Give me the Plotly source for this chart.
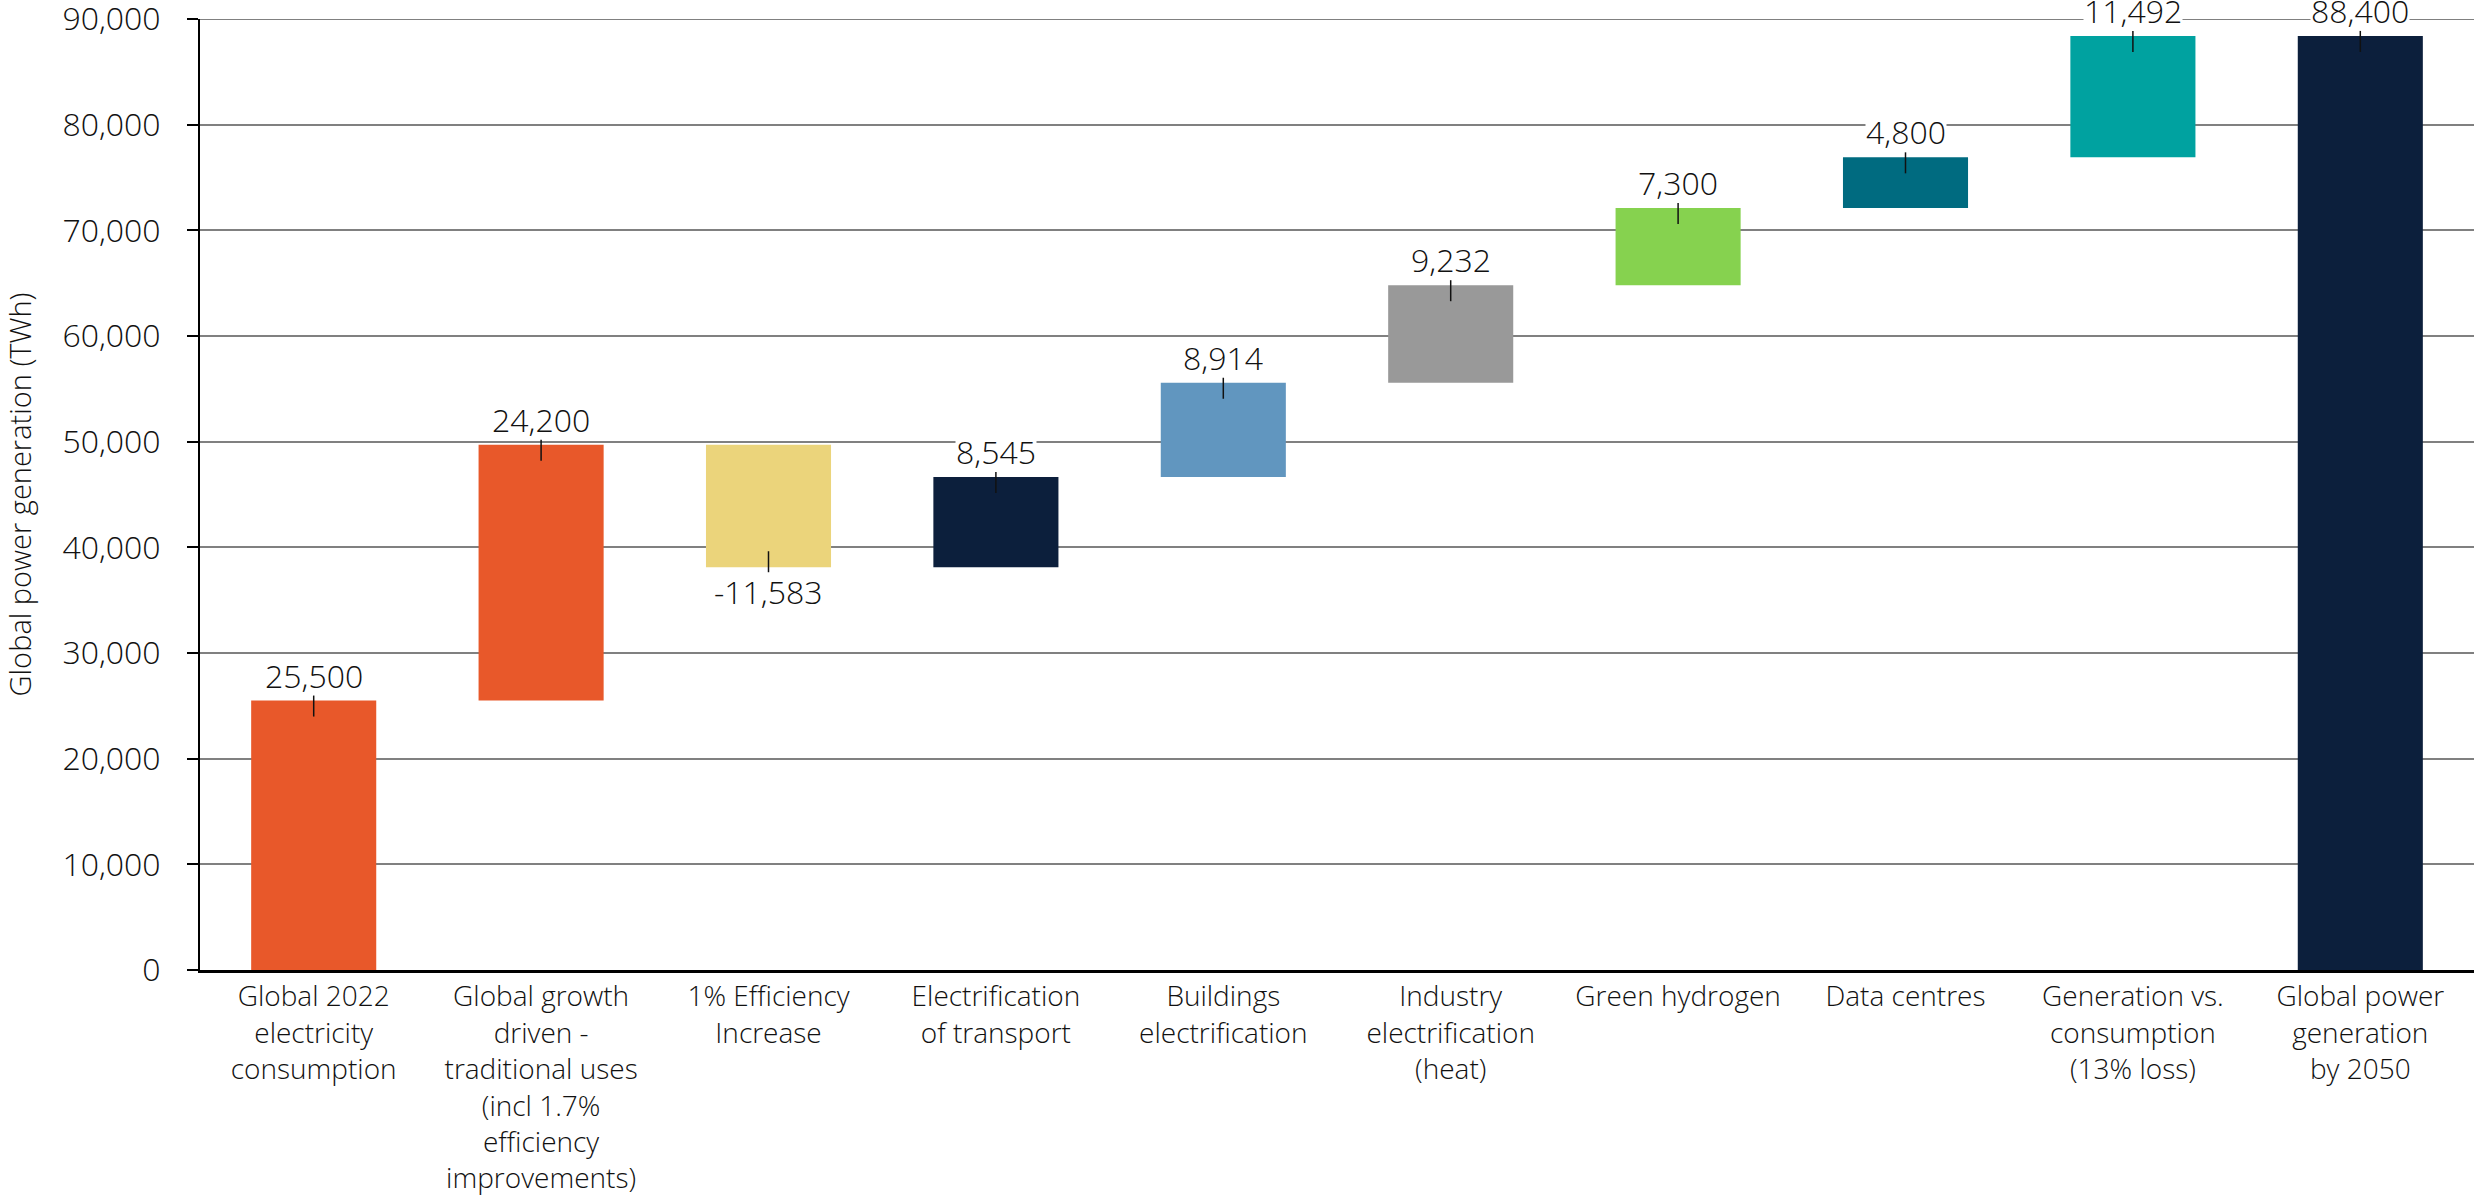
import plotly.graph_objects as go

categories = [
    "Global 2022<br>electricity<br>consumption",
    "Global growth<br>driven -<br>traditional uses<br>(incl 1.7%<br>efficiency<br>improvements)",
    "1% Efficiency<br>Increase",
    "Electrification<br>of transport",
    "Buildings<br>electrification",
    "Industry<br>electrification<br>(heat)",
    "Green hydrogen",
    "Data centres",
    "Generation vs.<br>consumption<br>(13% loss)",
    "Global power<br>generation<br>by 2050",
]
values = [25500, 24200, -11583, 8545, 8914, 9232, 7300, 4800, 11492, 88400]
is_total = [False, False, False, False, False, False, False, False, False, True]
colors = ["#E8582A", "#E8582A", "#EBD47B", "#0C1F3C", "#6196BF", "#999999",
          "#86D24F", "#006B80", "#00A2A0", "#0C1F3C"]
value_labels = ["25,500", "24,200", "-11,583", "8,545", "8,914", "9,232",
                "7,300", "4,800", "11,492", "88,400"]
y_ticks = [0, 10000, 20000, 30000, 40000, 50000, 60000, 70000, 80000, 90000]

# floating bar geometry from cumulative totals
bases, heights = [], []
running = 0
for v, tot in zip(values, is_total):
    if tot:
        bases.append(0)
        heights.append(v)
        running = v
    else:
        bases.append(running if v >= 0 else running + v)
        heights.append(abs(v))
        running += v

x_idx = list(range(len(categories)))
FONT = "Open Sans, Lato, sans-serif"
TXT = "#111111"

fig = go.Figure()

# top gridline (plotly omits the grid line on the plot edge)
fig.add_shape(type="line", xref="x domain", x0=0, x1=1, yref="y",
              y0=y_ticks[-1], y1=y_ticks[-1],
              line=dict(color="#808080", width=2), layer="below")

fig.add_trace(go.Bar(
    x=x_idx, y=heights, base=bases,
    marker=dict(color=colors, line=dict(width=0)),
    width=0.55, hoverinfo="skip", showlegend=False,
))

for i, (v, b, h, lab) in enumerate(zip(values, bases, heights, value_labels)):
    if v >= 0:
        edge = b + h
        fig.add_annotation(x=i, y=edge, text=lab, showarrow=False,
                           yanchor="bottom", yshift=8, bgcolor="white",
                           borderpad=0, height=34, valign="middle", width=None,
                           font=dict(family=FONT, size=32, color=TXT, weight=300))
        fig.add_shape(type="line", xref="x", yref="y", x0=i, x1=i,
                      ysizemode="pixel", yanchor=edge, y0=-16, y1=5,
                      line=dict(color=TXT, width=1.5), layer="above")
    else:
        edge = b
        fig.add_annotation(x=i, y=edge, text=lab, showarrow=False,
                           yanchor="top", yshift=-6, bgcolor="white",
                           borderpad=0, height=34, valign="middle",
                           font=dict(family=FONT, size=32, color=TXT, weight=300))
        fig.add_shape(type="line", xref="x", yref="y", x0=i, x1=i,
                      ysizemode="pixel", yanchor=edge, y0=-5, y1=16,
                      line=dict(color=TXT, width=1.5), layer="above")

fig.update_layout(
    width=2474, height=1197,
    margin=dict(l=200, r=0, t=19, b=227),
    plot_bgcolor="white", paper_bgcolor="white",
    font=dict(family=FONT, size=28, color=TXT, weight=300),
)
fig.update_xaxes(
    tickmode="array", tickvals=x_idx, ticktext=categories,
    range=[-0.5, len(categories) - 0.5],
    showline=True, linecolor="black", linewidth=2.5,
    ticks="", showgrid=False, tickangle=0, automargin=False,
    tickfont=dict(family=FONT, size=28, color=TXT, weight=300),
)
fig.update_yaxes(
    range=[0, 90000], tickmode="array", tickvals=y_ticks,
    tickformat=",", showline=True, linecolor="black", linewidth=2,
    ticks="outside", ticklen=11, tickcolor="black", tickwidth=1.5,
    ticklabelstandoff=20, ticklabeloverflow="allow", automargin=False,
    showgrid=True, gridcolor="#808080", gridwidth=1.5,
    zeroline=False,
    tickfont=dict(family=FONT, size=32, color=TXT, weight=300),
    title=dict(text="Global power generation (TWh)",
               font=dict(family=FONT, size=29, color=TXT, weight=300), standoff=22),
)

fig.write_html("out.html")
